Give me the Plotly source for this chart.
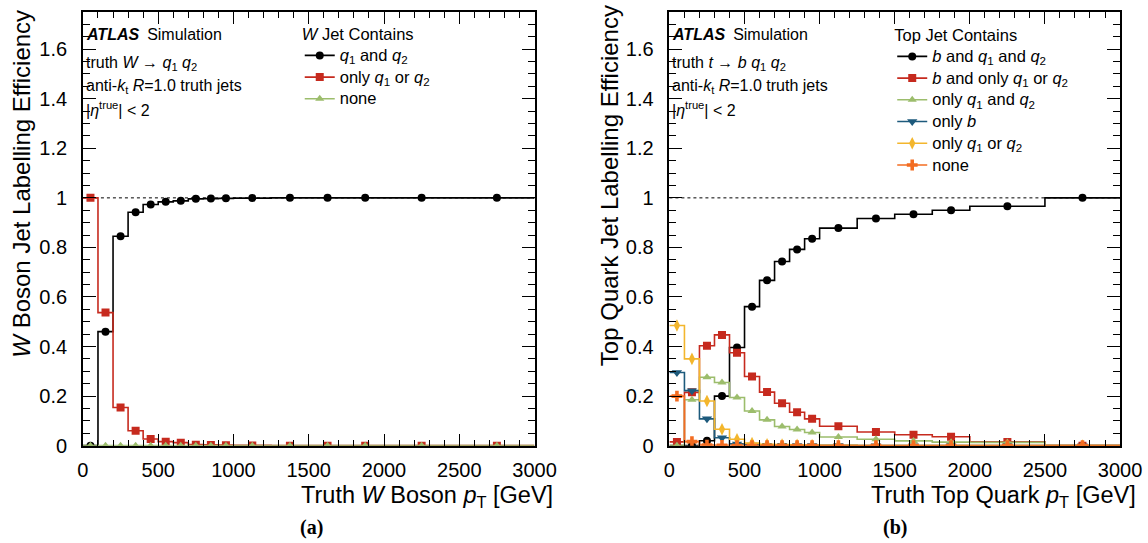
import plotly.graph_objects as go

# ---------------- data ----------------
bin_edges = [0, 100, 200, 300, 400, 500, 600, 700, 800, 900, 1000, 1250, 1500, 1750, 2000, 2500, 3000]

# (a) W boson
w_q1_and_q2 = [0.0, 0.46, 0.845, 0.942, 0.973, 0.984, 0.988, 0.996, 0.997, 0.998, 0.999, 1.0, 1.0, 1.0, 1.0, 1.0]
w_only_q1_or_q2 = [1.0, 0.537, 0.154, 0.06, 0.027, 0.016, 0.012, 0.004, 0.003, 0.002, 0.001, 0.0, 0.0, 0.0, 0.0, 0.0]
w_none = [0.0, 0.0, 0.0, 0.0, 0.0, 0.0, 0.0, 0.0, 0.0, 0.0, 0.0, 0.0, 0.0, 0.0, 0.0, 0.0]

# (b) top quark
t_b_q1_q2 = [0.0, 0.0, 0.02, 0.2, 0.396, 0.561, 0.667, 0.743, 0.792, 0.835, 0.878, 0.917, 0.934, 0.95, 0.966, 1.0]
t_b_only_q = [0.015, 0.215, 0.403, 0.447, 0.375, 0.279, 0.216, 0.171, 0.135, 0.108, 0.078, 0.055, 0.044, 0.036, 0.015, 0.0]
t_only_q1_q2 = [0.0, 0.185, 0.276, 0.255, 0.194, 0.14, 0.104, 0.077, 0.065, 0.053, 0.035, 0.026, 0.019, 0.014, 0.013, 0.0]
t_only_b = [0.295, 0.222, 0.108, 0.032, 0.007, 0.003, 0.002, 0.002, 0.001, 0.001, 0.001, 0.0, 0.0, 0.0, 0.0, 0.0]
t_only_q = [0.485, 0.35, 0.18, 0.066, 0.026, 0.01, 0.005, 0.004, 0.003, 0.002, 0.001, 0.0, 0.0, 0.0, 0.0, 0.0]
t_none = [0.2, 0.016, 0.002, 0.001, 0.0, 0.0, 0.0, 0.0, 0.0, 0.0, 0.0, 0.0, 0.0, 0.0, 0.0, 0.0]

w_labels = ["<i>q</i><sub>1</sub> and <i>q</i><sub>2</sub>",
            "only <i>q</i><sub>1</sub> or <i>q</i><sub>2</sub>",
            "none"]
t_labels = ["<i>b</i> and <i>q</i><sub>1</sub> and <i>q</i><sub>2</sub>",
            "<i>b</i> and only <i>q</i><sub>1</sub> or <i>q</i><sub>2</sub>",
            "only <i>q</i><sub>1</sub> and <i>q</i><sub>2</sub>",
            "only <i>b</i>",
            "only <i>q</i><sub>1</sub> or <i>q</i><sub>2</sub>",
            "none"]

# ---------------- styles ----------------
BLACK = "#000000"
RED = "#c62a1e"
GREEN = "#9cbd6c"
BLUE = "#1d5a7c"
YELLOW = "#f3b62d"
ORANGE = "#f36c21"
FONT = "Liberation Sans, Arial, Helvetica, sans-serif"

W, H = 1148, 543          # reference frame used for placing things
FIG_W, FIG_H = 1175, 556  # rendered figure size
X_SHIFT = 6
def px(x):
    return (x - X_SHIFT) / W
def py(y):
    return 1 - y / H

centers = [(bin_edges[i] + bin_edges[i + 1]) / 2 for i in range(len(bin_edges) - 1)]

fig = go.Figure()

def add_series(vals, color, symbol, msize, label, xa, ya, legend):
    fig.add_trace(go.Scatter(x=bin_edges, y=vals + [vals[-1]], mode="lines",
                             line=dict(color=color, width=1.6, shape="hv"),
                             xaxis=xa, yaxis=ya, showlegend=False, hoverinfo="skip"))
    fig.add_trace(go.Scatter(x=centers, y=vals, mode="markers",
                             marker=dict(color=color, symbol=symbol, size=msize, line=dict(width=0)),
                             xaxis=xa, yaxis=ya, showlegend=False))
    fig.add_trace(go.Scatter(x=[None], y=[None], mode="lines+markers",
                             name='<span style="font-size:16.5px">' + label + "</span>",
                             line=dict(color=color, width=1.6),
                             marker=dict(color=color, symbol=symbol, size=msize, line=dict(width=0)),
                             xaxis=xa, yaxis=ya, legend=legend, showlegend=True))

add_series(w_q1_and_q2, BLACK, "circle", 8, w_labels[0], "x", "y", "legend")
add_series(w_only_q1_or_q2, RED, "square", 8, w_labels[1], "x", "y", "legend")
add_series(w_none, GREEN, "triangle-up", 8, w_labels[2], "x", "y", "legend")

add_series(t_b_q1_q2, BLACK, "circle", 8, t_labels[0], "x2", "y2", "legend2")
add_series(t_b_only_q, RED, "square", 8, t_labels[1], "x2", "y2", "legend2")
add_series(t_only_q1_q2, GREEN, "triangle-up", 8, t_labels[2], "x2", "y2", "legend2")
add_series(t_only_b, BLUE, "triangle-down", 9, t_labels[3], "x2", "y2", "legend2")
add_series(t_only_q, YELLOW, "diamond-tall", 9, t_labels[4], "x2", "y2", "legend2")
add_series(t_none, ORANGE, "cross", 9, t_labels[5], "x2", "y2", "legend2")

ydom = [py(444), py(12)]

def xaxis_style(domain, anchor):
    return dict(domain=domain, anchor=anchor, range=[0, 3000], tick0=0, dtick=500,
                ticks="inside", ticklen=12, tickwidth=1.2, tickcolor="black",
                minor=dict(ticks="inside", dtick=100, ticklen=6, tickwidth=1.2, tickcolor="black"),
                showline=True, linecolor="black", linewidth=1.5, mirror="allticks",
                showgrid=False, zeroline=False, ticklabelstandoff=6,
                tickfont=dict(family=FONT, size=20, color="black"))

def yaxis_style(anchor):
    return dict(domain=ydom, anchor=anchor, range=[0, 1.75], tick0=0, dtick=0.2,
                ticks="inside", ticklen=13, tickwidth=1.2, tickcolor="black",
                minor=dict(ticks="inside", dtick=0.05, ticklen=7, tickwidth=1.2, tickcolor="black"),
                showline=True, linecolor="black", linewidth=1.5, mirror="allticks",
                showgrid=False, zeroline=False, ticklabelstandoff=10,
                tickfont=dict(family=FONT, size=20, color="black"))

legend_common = dict(xanchor="left", yanchor="top", bgcolor="rgba(0,0,0,0)",
                     font=dict(family=FONT, size=14.4, color="black"), itemwidth=30,
                     tracegroupgap=0)

fig.update_layout(
    width=FIG_W, height=FIG_H, margin=dict(l=0, r=0, t=0, b=0),
    paper_bgcolor="white", plot_bgcolor="white",
    xaxis=xaxis_style([px(83), px(535)], "y"),
    yaxis=yaxis_style("x"),
    xaxis2=xaxis_style([px(670), px(1121)], "y2"),
    yaxis2=yaxis_style("x2"),
    legend=dict(x=px(300), y=py(18),
                title=dict(text="<i>W</i> Jet Contains", font=dict(family=FONT, size=16.5, color="black")),
                **legend_common),
    legend2=dict(x=px(893), y=py(19),
                 title=dict(text="Top Jet Contains", font=dict(family=FONT, size=16.5, color="black")),
                 **legend_common),
)

for xr, yr in (("x domain", "y"), ("x2 domain", "y2")):
    fig.add_shape(type="line", xref=xr, yref=yr, x0=0, x1=1, y0=1, y1=1,
                  line=dict(color="black", width=1, dash="dot"), layer="below")

def txt(x, y, text, size=16, **kw):
    fig.add_annotation(x=x, y=y, xref="paper", yref="paper", text=text, showarrow=False,
                       font=dict(family=FONT, size=size, color="black"), **kw)

for x0, line1 in ((84, "truth <i>W</i> \u2192 <i>q</i><sub>1</sub> <i>q</i><sub>2</sub>"),
                  (671, "truth <i>t</i> \u2192 <i>b</i> <i>q</i><sub>1</sub> <i>q</i><sub>2</sub>")):
    txt(px(x0), py(34), "<b><i>ATLAS</i></b>\u2002Simulation", xanchor="left", yanchor="middle")
    txt(px(x0), py(63), line1, xanchor="left", yanchor="middle")
    txt(px(x0), py(86), "anti-<i>k</i><sub>t</sub> <i>R</i>=1.0 truth jets", xanchor="left", yanchor="middle")
    txt(px(x0), py(109), "|<i>\u03b7</i><sup>true</sup>| &lt; 2", xanchor="left", yanchor="middle")

# axis titles
txt(px(22), py(183), "<i>W</i> Boson Jet Labelling Efficiency", size=24, textangle=-90,
    xanchor="center", yanchor="middle")
txt(px(610), py(185), "Top Quark Jet Labelling Efficiency", size=24, textangle=-90,
    xanchor="center", yanchor="middle")
txt(px(555), py(495), "Truth <i>W</i> Boson <i>p</i><sub>T</sub> [GeV]", size=23.5,
    xanchor="right", yanchor="middle")
txt(px(1139), py(495), "Truth Top Quark <i>p</i><sub>T</sub> [GeV]", size=23.5,
    xanchor="right", yanchor="middle")

for x0, lab in ((312, "(a)"), (896, "(b)")):
    fig.add_annotation(x=px(x0), y=py(526), xref="paper", yref="paper", text="<b>" + lab + "</b>",
                       showarrow=False, xanchor="center", yanchor="middle",
                       font=dict(family="Liberation Serif, Times New Roman, serif", size=20, color="black"))

fig.write_html("out.html",
               config={"displayModeBar": False, "responsive": False},
               post_script="document.body.style.margin='0';document.body.style.overflow='hidden';")
